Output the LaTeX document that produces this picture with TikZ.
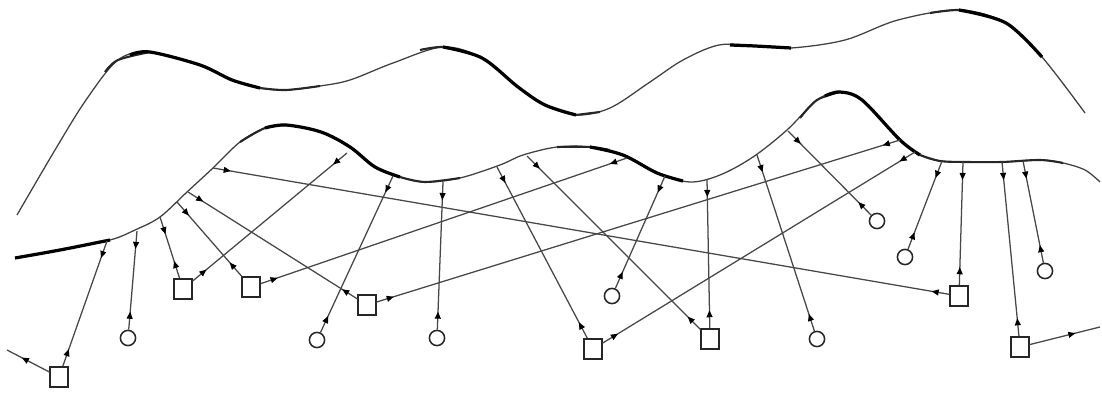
\documentclass[tikz,border=0pt]{standalone}
\usetikzlibrary{arrows.meta, decorations.markings}

\begin{document}
\begin{tikzpicture}[
    x=0.25mm, y=-0.25mm,
    src/.style={rectangle, draw=black!85, line width=1.1pt,
                minimum width=4.4mm, minimum height=5mm, inner sep=0pt},
    rcv/.style={circle, draw=black!85, line width=1.1pt,
                minimum size=3.8mm, inner sep=0pt},
    ray/.style={draw=black!72, line width=0.9pt, postaction={decorate},
                decoration={markings,
                  mark=at position 4.5mm with {\arrow[black]{Triangle[length=5pt,width=4.2pt]}},
                  mark=at position -4.5mm with {\arrowreversed[black]{Triangle[length=5pt,width=4.2pt]}}}},
    exitray/.style={draw=black!72, line width=0.9pt, postaction={decorate},
                decoration={markings,
                  mark=at position 0.65 with {\arrow[black]{Triangle[length=5pt,width=4.2pt]}}}},
    surf/.style={line width=0.9pt, draw=black!75},
    bold/.style={line width=2.3pt, draw=black},
    semibold/.style={line width=1.5pt, draw=black!85}
  ]
    \useasboundingbox (0,0) rectangle (1102,396);

    % Upper layer
    \draw[surf] plot[smooth, tension=0.55] coordinates {(17,215) (55,150) (86,100) (118,60)
      (150,52) (200,65) (232,80) (260,88) (286,90) (320,86) (350,80) (393,63) (443,47)
      (482,58) (518,87) (545,105) (576,115) (610,108) (650,82) (683,60) (719,45) (755,46)
      (791,48) (845,40) (898,20) (959,10) (1006,23) (1042,57) (1085,113)};
    \draw[semibold] plot[smooth, tension=0.55] coordinates {(105,72) (118,60) (150,52)};
    \draw[bold] plot[smooth, tension=0.55] coordinates {(130,55) (150,52) (200,65) (232,80) (260,88)};
    \draw[semibold] plot[smooth, tension=0.55] coordinates {(260,88) (286,90) (320,86)};
    \draw[semibold] plot[smooth, tension=0.55] coordinates {(420,50) (443,47) (470,53)};
    \draw[bold] plot[smooth, tension=0.55] coordinates {(443,47) (482,58) (518,87) (545,105) (576,115)};
    \draw[semibold] plot[smooth, tension=0.55] coordinates {(576,115) (600,112)};
    \draw[bold] plot[smooth, tension=0.55] coordinates {(730,45) (755,46) (791,48)};
    \draw[semibold] plot[smooth, tension=0.55] coordinates {(930,13) (959,10) (985,15)};
    \draw[bold] plot[smooth, tension=0.55] coordinates {(959,10) (1006,23) (1042,57)};

    % Surface
    \draw[surf] plot[smooth, tension=0.55] coordinates {(15,258) (60,250) (110,240) (135,230)
      (160,217) (187,192) (213,168) (240,142) (265,128) (286,125) (321,132) (350,147)
      (375,167) (400,177) (425,182) (460,178) (500,165) (523,155) (557,147) (590,147)
      (623,155) (657,173) (690,182) (720,175) (753,157) (787,130) (817,100) (840,92)
      (862,100) (900,140) (920,155) (940,161) (967,162) (1002,162) (1040,160) (1063,163)
      (1085,170) (1100,182)};
    \draw[bold] plot[smooth, tension=0.55] coordinates {(15,258) (60,250) (110,240)};
    \draw[semibold] plot[smooth, tension=0.55] coordinates {(240,142) (265,128) (286,125)};
    \draw[bold] plot[smooth, tension=0.55] coordinates {(265,128) (286,125) (321,132) (350,147) (375,167) (400,177)};
    \draw[semibold] plot[smooth, tension=0.55] coordinates {(400,177) (425,182) (460,178)};
    \draw[semibold] plot[smooth, tension=0.55] coordinates {(557,147) (590,147) (610,150)};
    \draw[bold] plot[smooth, tension=0.55] coordinates {(590,147) (623,155) (657,173) (683,181)};
    \draw[semibold] plot[smooth, tension=0.55] coordinates {(800,118) (817,100) (840,92)};
    \draw[bold] plot[smooth, tension=0.55] coordinates {(825,96) (840,92) (862,100) (900,140) (920,155)};
    \draw[semibold] plot[smooth, tension=0.55] coordinates {(920,155) (940,161) (967,162) (1002,162) (1040,160) (1063,163)};

    % Sources
    \node[src] (src1) at (59,377) {};
    \node[src] (src2) at (183,289) {};
    \node[src] (src3) at (251,287) {};
    \node[src] (src4) at (367,305) {};
    \node[src] (src5) at (593,349) {};
    \node[src] (src6) at (710,339) {};
    \node[src] (src7) at (959,296) {};
    \node[src] (src8) at (1020,347) {};

    % Receivers
    \node[rcv] (rcv1) at (128,338) {};
    \node[rcv] (rcv2) at (317,340) {};
    \node[rcv] (rcv3) at (437,338) {};
    \node[rcv] (rcv4) at (612,296) {};
    \node[rcv] (rcv5) at (817,339) {};
    \node[rcv] (rcv6) at (877,221) {};
    \node[rcv] (rcv7) at (905,257) {};
    \node[rcv] (rcv8) at (1045,271) {};

    % Bounce points on the surface
    \coordinate (b1) at (107,241);
    \coordinate (b2) at (137,231);
    \coordinate (b3) at (160,217);
    \coordinate (b4) at (177,202);
    \coordinate (b5) at (188,192);
    \coordinate (b6) at (213,168);
    \coordinate (b7) at (347,153);
    \coordinate (b8) at (393,176);
    \coordinate (b9) at (443,182);
    \coordinate (b10) at (497,167);
    \coordinate (b11) at (527,156);
    \coordinate (b12) at (627,158);
    \coordinate (b13) at (665,176);
    \coordinate (b14) at (707,179);
    \coordinate (b15) at (757,155);
    \coordinate (b16) at (788,131);
    \coordinate (b17) at (900,140);
    \coordinate (b18) at (915,152);
    \coordinate (b19) at (942,161);
    \coordinate (b20) at (963,162);
    \coordinate (b21) at (1002,162);
    \coordinate (b22) at (1023,161);
    \coordinate (end1) at (7,350);
    \coordinate (end2) at (1100,327);

    % Rays
    \draw[ray] (b1) -- (src1);
    \draw[ray] (b2) -- (rcv1);
    \draw[ray] (b3) -- (src2);
    \draw[ray] (b4) -- (src3);
    \draw[ray] (b5) -- (src4);
    \draw[ray] (b6) -- (src7);
    \draw[ray] (src2) -- (b7);
    \draw[ray] (b8) -- (rcv2);
    \draw[ray] (b9) -- (rcv3);
    \draw[ray] (b10) -- (src5);
    \draw[ray] (b11) -- (src6);
    \draw[ray] (src3) -- (b12);
    \draw[ray] (b13) -- (rcv4);
    \draw[ray] (src6) -- (b14);
    \draw[ray] (b15) -- (rcv5);
    \draw[ray] (b16) -- (rcv6);
    \draw[ray] (src4) -- (b17);
    \draw[ray] (src5) -- (b18);
    \draw[ray] (b19) -- (rcv7);
    \draw[ray] (b20) -- (src7);
    \draw[ray] (b21) -- (src8);
    \draw[ray] (b22) -- (rcv8);
    \draw[exitray] (src1) -- (end1);
    \draw[exitray] (src8) -- (end2);

\end{tikzpicture}
\end{document}
